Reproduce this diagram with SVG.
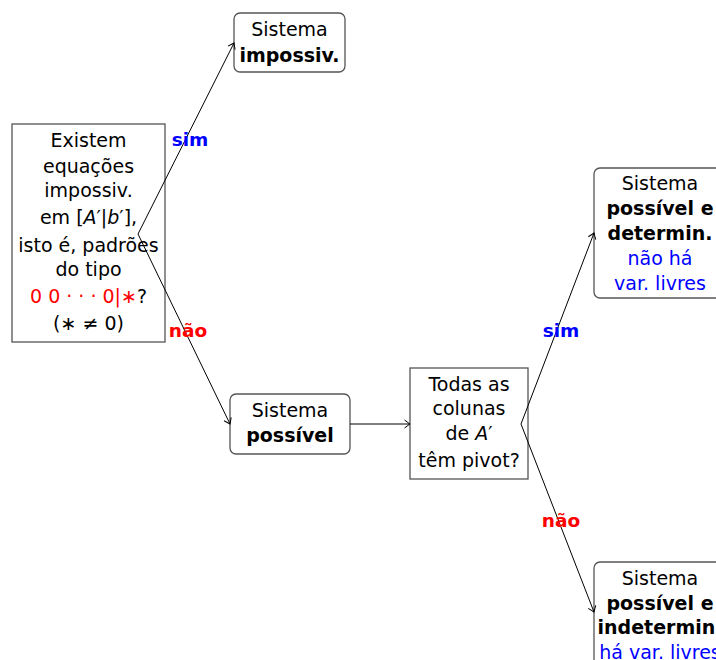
<svg xmlns="http://www.w3.org/2000/svg" width="716" height="660" viewBox="0 0 716 660">
<defs>
<marker id="arr" markerUnits="userSpaceOnUse" markerWidth="12" markerHeight="12" viewBox="-7 -6 8 12" refX="0" refY="0" orient="auto">
<path d="M-5.5,-4 Q-1.5,-1 0,0 Q-1.5,1 -5.5,4" fill="none" stroke="#000" stroke-width="1"/>
</marker>
<style>
text{font-family:"DejaVu Sans","Liberation Sans",sans-serif;font-size:19px;fill:#000;text-anchor:middle}
.b{font-weight:bold}
.blue{fill:#0000ff}
.red{fill:#ff0000}
.lab{font-weight:bold;font-size:18.5px}
.i{font-style:italic}
.box{fill:#fff;stroke:#555;stroke-width:1.3}
.edge{fill:none;stroke:#000;stroke-width:1;marker-end:url(#arr)}
</style>
</defs>
<rect width="716" height="660" fill="#fff"/>
<g id="q1">
<rect class="box" x="12" y="124" width="153" height="218"/>
<text x="88.5" y="147">Existem</text>
<text x="88.5" y="173">equações</text>
<text x="88.5" y="197">impossiv.</text>
<text x="88.5" y="224">em [<tspan class="i">A</tspan>′|<tspan class="i">b</tspan>′],</text>
<text x="88.5" y="252">isto é, padrões</text>
<text x="88.5" y="276">do tipo</text>
<text x="88.5" y="303"><tspan class="red">0 0 · · · 0|∗</tspan>?</text>
<text x="88.5" y="330">(∗ ≠ 0)</text>
</g>
<g id="imp">
<rect class="box" x="234" y="13" width="111" height="59" rx="6"/>
<text x="289.5" y="36">Sistema</text>
<text class="b" x="289.5" y="62">impossiv.</text>
</g>
<g id="pos">
<rect class="box" x="230" y="394" width="120" height="60" rx="6"/>
<text x="290" y="417">Sistema</text>
<text class="b" x="290" y="442">possível</text>
</g>
<g id="q2">
<rect class="box" x="410" y="368" width="118" height="111"/>
<text x="469" y="391">Todas as</text>
<text x="469" y="415">colunas</text>
<text x="469" y="440">de <tspan class="i">A</tspan>′</text>
<text x="469" y="467">têm pivot?</text>
</g>
<g id="det">
<rect class="box" x="594" y="168" width="132" height="130" rx="6"/>
<text x="660" y="190">Sistema</text>
<text class="b" x="660" y="215">possível e</text>
<text class="b" x="660" y="240">determin.</text>
<text class="blue" x="660" y="265">não há</text>
<text class="blue" x="660" y="290">var. livres</text>
</g>
<g id="ind">
<rect class="box" x="594" y="562" width="132" height="130" rx="6"/>
<text x="660" y="585">Sistema</text>
<text class="b" x="660" y="610">possível e</text>
<text class="b" x="660" y="634">indetermin.</text>
<text class="blue" x="660" y="659">há var. livres</text>
</g>
<g id="edges">
<line class="edge" x1="138" y1="234" x2="234" y2="43"/>
<line class="edge" x1="138" y1="234" x2="230" y2="424"/>
<line class="edge" x1="350" y1="424" x2="410" y2="424"/>
<line class="edge" x1="521" y1="424" x2="594" y2="233"/>
<line class="edge" x1="521" y1="424" x2="594" y2="612"/>
<text class="lab blue" x="190" y="146">sim</text>
<text class="lab red" x="188" y="337">não</text>
<text class="lab blue" x="561" y="337">sim</text>
<text class="lab red" x="561" y="527">não</text>
</g>
</svg>
